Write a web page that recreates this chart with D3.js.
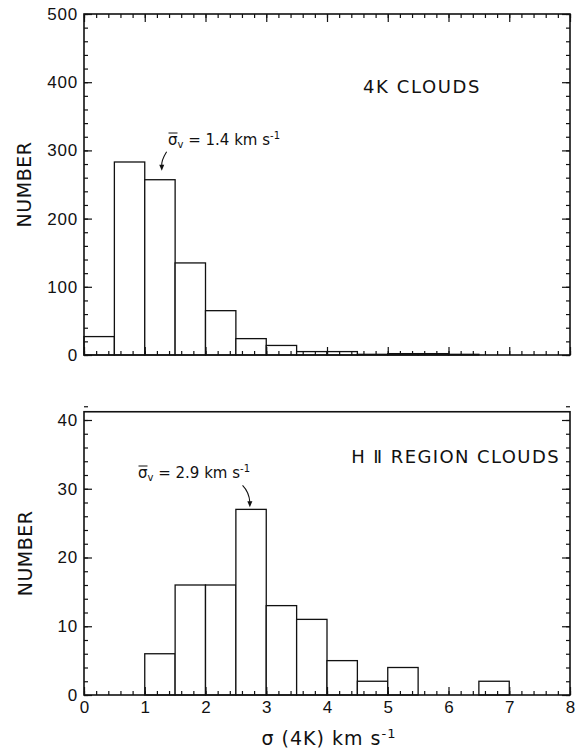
<!DOCTYPE html>
<html>
<head>
<meta charset="utf-8">
<script src="https://cdn.jsdelivr.net/npm/d3@7"></script>
<style>
  body { margin: 0; background: #fff; }
  svg { display: block; font-family: "DejaVu Sans", sans-serif; }
</style>
</head>
<body>
<div id="chart"></div>
<script>
// bin edges (km/s), 0.5 wide
const binEdges = [0, 0.5, 1, 1.5, 2, 2.5, 3, 3.5, 4, 4.5, 5, 5.5, 6, 6.5, 7, 7.5, 8];

// counts
const clouds4K = [27, 283, 257, 135, 65, 24, 14, 5, 5, 1, 2, 2, 1, 0, 0, 0];
const cloudsHII = [0, 0, 6, 16, 16, 27, 13, 11, 5, 2, 4, 0, 0, 2, 0, 0];

const xTicks = [0, 1, 2, 3, 4, 5, 6, 7, 8];
const yTicksTop = [0, 100, 200, 300, 400, 500];
const yTicksBottom = [0, 10, 20, 30, 40];

const W = 576, H = 752;

const svg = d3.select("#chart").append("svg")
  .attr("width", W)
  .attr("height", H);

function minorTicks(lo, hi, step) {
  return d3.range(Math.round((hi - lo) / step) + 1).map(i => +(lo + i * step).toFixed(4));
}

function drawPanel(opts) {
  const x = d3.scaleLinear().domain([0, 8]).range([84, 570]);
  const y = d3.scaleLinear().domain([0, opts.yMax]).range([opts.y0, opts.y0 - opts.yMax * opts.pxPerUnit]);
  const yTopVal = opts.yTop;
  const g = svg.append("g");

  // bars
  const bins = opts.counts.map((c, i) => ({ x0: binEdges[i], x1: binEdges[i + 1], n: c }))
    .filter(d => d.n > 0);
  g.selectAll("rect.bar")
    .data(bins)
    .join("rect")
    .attr("class", "bar")
    .attr("x", d => x(d.x0))
    .attr("y", d => y(d.n))
    .attr("width", d => x(d.x1) - x(d.x0))
    .attr("height", d => y(0) - y(d.n))
    .attr("fill", "#fff")
    .attr("stroke", "#111")
    .attr("stroke-width", 1.3);

  // frame
  g.append("rect")
    .attr("x", x(0))
    .attr("y", y(yTopVal))
    .attr("width", x(8) - x(0))
    .attr("height", y(0) - y(yTopVal))
    .attr("fill", "none")
    .attr("stroke", "#111")
    .attr("stroke-width", 1.6);

  const xMinor = minorTicks(0, 8, 0.2);
  const yMinor = minorTicks(0, opts.yMax, opts.yMinorStep);

  // bottom axis
  g.append("g")
    .attr("transform", `translate(0,${y(0)})`)
    .call(d3.axisBottom(x).tickValues(xMinor).tickSize(-4).tickFormat(""))
    .call(a => a.select(".domain").remove());
  const xb = g.append("g")
    .attr("transform", `translate(0,${y(0)})`)
    .call(d3.axisBottom(x).tickValues(xTicks).tickSize(-8).tickPadding(6)
      .tickFormat(opts.xLabels ? d3.format("d") : ""));
  xb.select(".domain").remove();
  xb.selectAll("text").attr("font-size", 17).attr("fill", "#111");

  // top axis ticks (only upper panel)
  if (opts.topTicks) {
    g.append("g")
      .attr("transform", `translate(0,${y(yTopVal)})`)
      .call(d3.axisTop(x).tickValues(xMinor).tickSize(-4).tickFormat(""))
      .call(a => a.select(".domain").remove());
    g.append("g")
      .attr("transform", `translate(0,${y(yTopVal)})`)
      .call(d3.axisTop(x).tickValues(xTicks).tickSize(-8).tickFormat(""))
      .call(a => a.select(".domain").remove());
  }

  // left axis
  g.append("g")
    .attr("transform", `translate(${x(0)},0)`)
    .call(d3.axisLeft(y).tickValues(yMinor).tickSize(-4).tickFormat(""))
    .call(a => a.select(".domain").remove());
  const yl = g.append("g")
    .attr("transform", `translate(${x(0)},0)`)
    .call(d3.axisLeft(y).tickValues(opts.yTicks).tickSize(-8).tickPadding(6).tickFormat(d3.format("d")));
  yl.select(".domain").remove();
  yl.selectAll("text").attr("font-size", 17).attr("letter-spacing", 0.8).attr("fill", "#111");

  // right axis
  g.append("g")
    .attr("transform", `translate(${x(8)},0)`)
    .call(d3.axisRight(y).tickValues(yMinor).tickSize(-4).tickFormat(""))
    .call(a => a.select(".domain").remove());
  g.append("g")
    .attr("transform", `translate(${x(8)},0)`)
    .call(d3.axisRight(y).tickValues(opts.yTicks).tickSize(-8).tickFormat(""))
    .call(a => a.select(".domain").remove());

  g.selectAll(".tick line").attr("stroke", "#111").attr("stroke-width", 1.2);

  // y title
  g.append("text")
    .attr("transform", `translate(${opts.yTitleX},${(y(0) + y(yTopVal)) / 2}) rotate(-90)`)
    .attr("text-anchor", "middle")
    .attr("dominant-baseline", "central")
    .attr("font-size", 19)
    .attr("letter-spacing", 0.5)
    .attr("fill", "#111")
    .text("NUMBER");

  // panel label
  g.append("text")
    .attr("x", opts.label.x)
    .attr("y", opts.label.y)
    .attr("text-anchor", opts.label.anchor)
    .attr("font-size", 18)
    .attr("letter-spacing", opts.label.spacing)
    .attr("fill", "#111")
    .text(opts.label.text);

  // mean annotation
  const ann = g.append("text")
    .attr("x", opts.ann.x)
    .attr("y", opts.ann.y)
    .attr("font-size", 15)
    .attr("fill", "#111");
  const sig = ann.append("tspan").text("σ");
  ann.append("tspan").attr("font-size", 10).attr("dy", 3).text("v");
  ann.append("tspan").attr("dy", -3).text(" = " + opts.ann.value + " km  s");
  ann.append("tspan").attr("font-size", 10).attr("dy", -6).text("-1");
  const bb = sig.node().getBBox();
  g.append("line")
    .attr("x1", bb.x + 0.5).attr("x2", bb.x + bb.width - 0.5)
    .attr("y1", bb.y + 2).attr("y2", bb.y + 2)
    .attr("stroke", "#111").attr("stroke-width", 1);

  // arrow
  const a = opts.arrow;
  const p0 = [x(a.from[0]), y(a.from[1])];
  const p1 = [x(a.tip[0]), y(a.tip[1])];
  const pm = [x(a.mid[0]), y(a.mid[1])];
  g.append("path")
    .attr("d", `M${p0[0]},${p0[1]} Q${pm[0]},${pm[1]} ${p1[0]},${p1[1] - 5}`)
    .attr("fill", "none")
    .attr("stroke", "#111")
    .attr("stroke-width", 1.1);
  g.append("path")
    .attr("d", `M${p1[0] - 2.5},${p1[1] - 6} L${p1[0] + 2.5},${p1[1] - 6} L${p1[0]},${p1[1]} Z`)
    .attr("fill", "#111");

  return { x, y };
}

drawPanel({
  counts: clouds4K,
  yMax: 500, yTop: 500, y0: 355, pxPerUnit: 0.682,
  yTicks: yTicksTop, yMinorStep: 20,
  xLabels: false, topTicks: true,
  yTitleX: 24,
  label: { text: "4K CLOUDS", x: 363, y: 93, anchor: "start", spacing: 1.6 },
  ann: { x: 168, y: 145, value: "1.4" },
  arrow: { from: [1.36, 298], mid: [1.27, 285], tip: [1.28, 270] }
});

drawPanel({
  counts: cloudsHII,
  yMax: 41.2, yTop: 41.2, y0: 695, pxPerUnit: 6.875,
  yTicks: yTicksBottom, yMinorStep: 2,
  xLabels: true, topTicks: false,
  yTitleX: 25,
  label: { text: "H \u2161 REGION CLOUDS", x: 560, y: 463, anchor: "end", spacing: 1.4 },
  ann: { x: 138, y: 478, value: "2.9" },
  arrow: { from: [2.61, 30.5], mid: [2.72, 29.5], tip: [2.73, 27.3] }
});

// x axis title
const xt = svg.append("text")
  .attr("x", 329)
  .attr("y", 745)
  .attr("text-anchor", "middle")
  .attr("font-size", 19)
  .attr("letter-spacing", 1)
  .attr("fill", "#111");
xt.append("tspan").text("σ (4K)  km s");
xt.append("tspan").attr("font-size", 13).attr("dy", -7).text("-1");
</script>
</body>
</html>
